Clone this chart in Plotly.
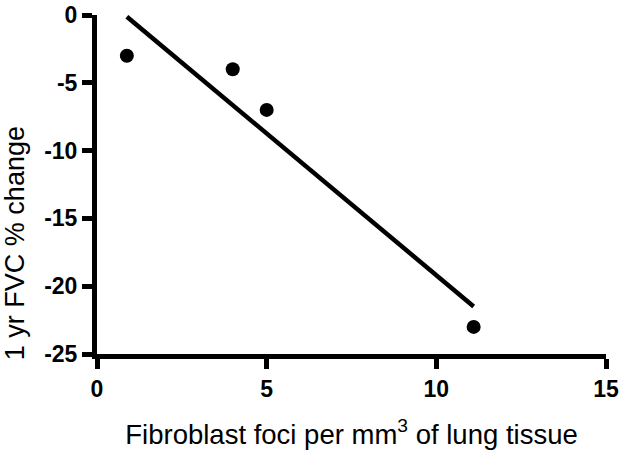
import numpy as np
import plotly.graph_objects as go

foci = [0.88, 4.0, 5.0, 11.1]
fvc_change = [-3.0, -4.0, -7.0, -23.0]
x_ticks = [0, 5, 10, 15]
x_tick_labels = ["0", "5", "10", "15"]
y_ticks = [-25, -20, -15, -10, -5, 0]
y_tick_labels = ["-25", "-20", "-15", "-10", "-5", "0"]

slope, intercept = np.polyfit(foci, fvc_change, 1)
fit_x = [min(foci), max(foci)]
fit_y = [slope * v + intercept for v in fit_x]

fig = go.Figure()
fig.add_trace(go.Scatter(x=fit_x, y=fit_y, mode="lines",
                         line=dict(color="black", width=4.5), cliponaxis=False,
                         showlegend=False))
fig.add_trace(go.Scatter(x=foci, y=fvc_change, mode="markers",
                         marker=dict(color="black", size=14), cliponaxis=False,
                         showlegend=False))

font_family = "Liberation Sans"
tick_font = dict(size=23, family=font_family, color="black", weight="bold")
fig.update_layout(
    width=623, height=450,
    margin=dict(l=97, r=17, t=15, b=96),
    plot_bgcolor="white", paper_bgcolor="white",
    font=dict(family=font_family, color="black", size=23),
    xaxis=dict(range=[0, 15], tickvals=x_ticks, ticktext=x_tick_labels,
               showgrid=False, zeroline=False, automargin=False,
               showline=True, linecolor="black", linewidth=5,
               ticks="outside", ticklen=10, tickwidth=5, tickcolor="black",
               tickfont=tick_font,
               title=dict(text="Fibroblast foci per mm<sup>3</sup> of lung tissue",
                          font=dict(size=27.5, family=font_family, color="black"),
                          standoff=28)),
    yaxis=dict(range=[-25, 0], tickvals=y_ticks, ticktext=y_tick_labels,
               showgrid=False, zeroline=False, automargin=False,
               showline=True, linecolor="black", linewidth=5,
               ticks="outside", ticklen=10, tickwidth=5, tickcolor="black",
               tickfont=tick_font),
    annotations=[dict(text="1 yr FVC % change", textangle=-90,
                      xref="paper", yref="paper", x=0, y=0.327,
                      xshift=-82, xanchor="center", yanchor="middle",
                      showarrow=False,
                      font=dict(size=27, family=font_family, color="black"))],
)
fig.write_html("out.html")
